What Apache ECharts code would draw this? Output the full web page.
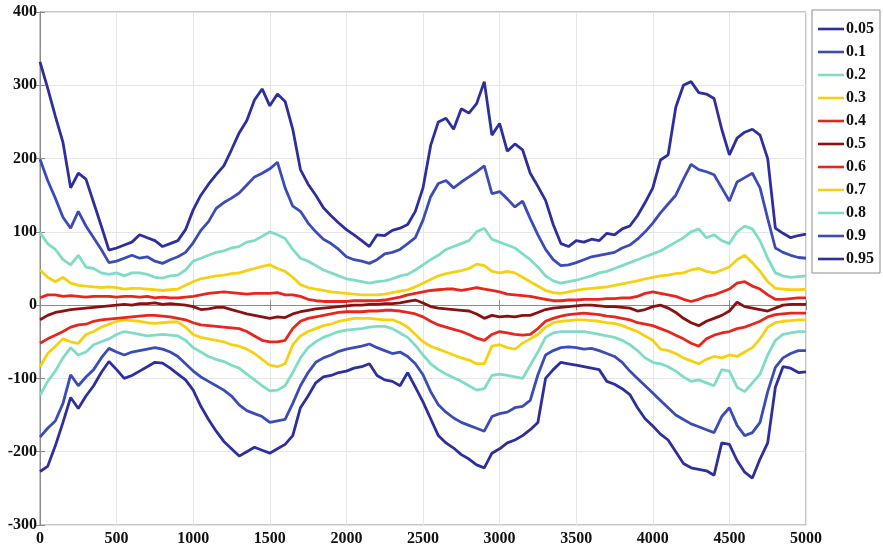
<!DOCTYPE html>
<html>
<head>
<meta charset="utf-8">
<script src="https://cdn.jsdelivr.net/npm/echarts@6/dist/echarts.min.js"></script>
<style>
  html, body { margin: 0; padding: 0; background: #fff; }
  #chart { width: 883px; height: 553px; }
</style>
</head>
<body>
<div id="chart"></div>
<script>
// Sample positions: 0, 50, 100, ... 5000
const xStep = 50;

const quantileNames = ['0.05', '0.1', '0.2', '0.3', '0.4', '0.5', '0.6', '0.7', '0.8', '0.9', '0.95'];

const q05 = [-227,-220,-192,-160,-126,-141,-124,-110,-92,-77,-88,-100,-96,-90,-84,-78,-79,-86,-94,-102,
  -116,-138,-156,-172,-186,-196,-206,-200,-194,-198,-202,-196,-190,-178,-140,-124,-106,-98,-96,-92,
  -90,-86,-84,-80,-96,-102,-104,-110,-92,-112,-132,-155,-178,-188,-195,-204,-210,-218,-222,-202,
  -196,-188,-184,-178,-170,-160,-100,-88,-78,-80,-82,-84,-86,-88,-104,-108,-114,-122,-140,-155,
  -165,-176,-184,-200,-216,-222,-224,-226,-232,-188,-190,-212,-228,-236,-210,-188,-112,-84,-86,-92,-91];

const q10 = [-180,-168,-158,-134,-95,-110,-98,-88,-72,-59,-64,-68,-64,-62,-60,-58,-60,-64,-70,-80,
  -90,-98,-104,-110,-116,-124,-136,-144,-148,-152,-160,-158,-156,-134,-110,-92,-78,-72,-68,-63,
  -60,-58,-56,-53,-58,-62,-66,-64,-70,-80,-95,-118,-136,-146,-154,-160,-164,-168,-172,-152,
  -148,-146,-140,-138,-130,-95,-68,-62,-58,-57,-58,-60,-59,-62,-66,-70,-78,-90,-100,-110,
  -120,-130,-140,-150,-156,-162,-166,-170,-174,-152,-140,-164,-178,-174,-160,-118,-85,-72,-66,-62,-62];

const q20 = [-123,-104,-90,-72,-58,-68,-64,-54,-50,-46,-40,-36,-38,-40,-42,-41,-40,-41,-42,-48,
  -58,-64,-70,-74,-77,-82,-86,-94,-102,-110,-117,-116,-110,-92,-72,-58,-50,-44,-40,-36,
  -34,-33,-32,-30,-29,-29,-32,-38,-44,-55,-68,-80,-88,-94,-99,-104,-110,-116,-114,-96,
  -94,-96,-98,-100,-82,-64,-44,-38,-36,-36,-36,-36,-38,-40,-42,-44,-48,-54,-62,-72,
  -78,-80,-84,-90,-98,-104,-102,-106,-110,-88,-90,-112,-118,-106,-94,-68,-48,-40,-38,-36,-36];

const q30 = [-84,-66,-56,-46,-50,-52,-40,-36,-30,-26,-22,-20,-21,-22,-24,-25,-24,-23,-23,-30,
  -40,-44,-46,-48,-50,-54,-56,-60,-66,-74,-82,-84,-80,-54,-42,-36,-32,-28,-26,-22,
  -20,-18,-18,-18,-19,-20,-20,-24,-30,-40,-50,-56,-60,-64,-68,-72,-75,-80,-80,-56,
  -54,-58,-60,-52,-46,-40,-30,-24,-22,-21,-20,-20,-21,-22,-24,-25,-28,-32,-36,-42,
  -48,-60,-62,-66,-72,-76,-80,-74,-70,-72,-68,-70,-64,-58,-46,-30,-24,-22,-21,-20,-20];

const q40 = [-52,-46,-41,-36,-30,-27,-26,-22,-20,-19,-18,-17,-16,-15,-14,-14,-15,-16,-18,-20,
  -24,-27,-28,-29,-30,-31,-32,-36,-42,-48,-50,-50,-48,-32,-22,-18,-16,-14,-12,-10,
  -9,-9,-9,-8,-8,-7,-7,-8,-10,-12,-16,-22,-27,-30,-33,-36,-40,-45,-48,-40,
  -36,-38,-40,-41,-40,-32,-22,-18,-15,-13,-12,-11,-12,-13,-15,-16,-18,-20,-24,-26,
  -28,-32,-36,-41,-46,-52,-56,-46,-41,-38,-36,-32,-30,-26,-22,-16,-13,-12,-11,-11,-11];

const q50 = [-20,-14,-10,-8,-6,-5,-4,-3,-2,-1,0,1,0,2,2,3,1,2,1,0,
  -2,-6,-5,-3,-3,-6,-9,-12,-14,-16,-18,-16,-17,-12,-9,-7,-5,-4,-3,-2,
  -1,0,0,1,1,2,2,3,5,7,3,-2,-4,-5,-6,-7,-8,-12,-18,-14,
  -16,-15,-16,-14,-14,-10,-6,-4,-3,-2,-1,0,0,-1,-2,-2,-3,-4,-8,-6,
  -2,0,-4,-10,-18,-24,-28,-22,-18,-14,-8,4,-2,-4,-6,-8,-4,0,1,1,1];

const q60 = [10,14,14,12,13,12,11,12,12,12,11,12,12,11,12,10,11,10,10,11,
  12,14,16,17,18,17,16,15,16,16,16,17,14,14,12,8,6,5,5,5,
  5,6,6,6,6,7,9,11,14,16,18,20,21,22,22,20,22,24,22,20,
  18,15,14,13,12,10,8,6,6,7,7,8,8,8,9,9,10,10,12,16,
  18,16,14,12,8,5,8,12,14,18,22,30,32,26,22,14,8,8,9,10,10];

const q70 = [48,38,32,38,30,27,26,25,24,25,24,22,23,23,22,21,20,21,22,27,
  32,36,38,40,41,43,44,47,50,53,55,50,46,38,28,24,22,20,18,17,
  16,15,14,14,14,15,17,19,21,25,30,35,40,43,45,47,50,56,54,46,
  44,46,44,38,32,26,20,17,16,18,20,22,23,24,25,27,29,31,33,36,
  38,40,41,43,44,48,50,46,44,48,52,62,68,58,46,32,23,22,21,21,22];

const q80 = [99,84,76,62,55,68,52,50,44,42,44,40,44,44,42,38,37,40,41,48,
  60,64,68,72,74,78,80,86,88,94,100,96,91,76,64,60,54,48,44,40,
  36,34,32,30,32,33,36,40,42,48,55,62,68,76,80,84,88,100,105,90,
  86,82,78,70,62,52,40,33,30,32,34,37,40,44,46,50,54,58,62,66,
  70,74,80,86,92,100,104,92,96,88,84,100,108,104,88,64,44,40,38,39,40];

const q90 = [199,170,146,120,105,128,108,92,76,58,60,64,68,64,66,60,57,62,66,72,
  85,102,114,132,140,146,153,164,175,180,186,195,160,135,128,112,100,90,84,76,
  66,62,60,57,62,70,72,76,84,92,116,148,166,170,160,168,175,182,190,152,
  155,145,134,142,118,96,76,62,54,55,58,62,66,68,70,72,78,82,90,100,
  112,126,138,150,172,192,185,182,178,160,142,168,174,180,160,118,78,72,68,65,64];

const q95 = [332,296,258,222,160,180,172,140,108,75,78,82,86,96,92,88,80,84,88,103,
  130,150,165,178,190,212,235,252,280,295,272,288,278,240,185,165,150,133,122,112,
  103,96,88,80,96,95,102,105,110,128,160,218,250,255,240,268,262,275,305,232,
  248,210,220,212,180,162,143,110,84,80,88,86,90,88,98,96,104,108,122,140,
  160,198,205,270,300,305,290,288,282,240,205,228,236,240,232,200,105,98,92,95,97];

const xTicks = [0, 500, 1000, 1500, 2000, 2500, 3000, 3500, 4000, 4500, 5000];
const yTicks = [-300, -200, -100, 0, 100, 200, 300, 400];

const seriesValues = [q05, q10, q20, q30, q40, q50, q60, q70, q80, q90, q95];
const seriesColors = ['#2c2f9c', '#3b4cb6', '#7fdcc6', '#f5d112', '#e8261d', '#8a1111',
                      '#e8261d', '#f5d112', '#7fdcc6', '#3b4cb6', '#2c2f9c'];

const labelFont = {
  fontFamily: '"Liberation Serif", "Times New Roman", serif',
  fontWeight: 'bold',
  fontSize: 16,
  color: '#111'
};

const series = seriesValues.map((vals, i) => ({
  name: quantileNames[i],
  type: 'line',
  xAxisIndex: 0,
  yAxisIndex: 0,
  showSymbol: false,
  symbol: 'none',
  animation: false,
  color: seriesColors[i],
  lineStyle: { width: 2.8, color: seriesColors[i] },
  data: vals.map((v, k) => [k * xStep, v]),
  z: 10 + (i === 5 ? 2 : 0)
}));

const xMin = xTicks[0], xMax = xTicks[xTicks.length - 1];
const yMin = yTicks[0], yMax = yTicks[yTicks.length - 1];

const chart = echarts.init(document.getElementById('chart'), null, { renderer: 'canvas' });
chart.setOption({
  animation: false,
  backgroundColor: '#fff',
  grid: {
    left: 40, right: 77, top: 12, bottom: 28,
    show: true, borderColor: '#8c8c8c', borderWidth: 1, backgroundColor: '#fff'
  },
  legend: {
    orient: 'vertical',
    right: 3,
    top: 10,
    width: 68,
    padding: [11, 6, 6, 6],
    backgroundColor: '#fff',
    borderColor: '#8c8c8c',
    borderWidth: 1,
    borderRadius: 0,
    itemWidth: 26,
    itemHeight: 12,
    itemGap: 7,
    icon: 'path://M0,5 L26,5 L26,7.6 L0,7.6 Z',
    textStyle: Object.assign({}, labelFont, { fontSize: 16, padding: [0, 0, 0, -3] }),
    data: quantileNames
  },
  xAxis: [{
    type: 'value',
    min: xMin, max: xMax, interval: 500,
    axisLine: { show: true, lineStyle: { color: '#8c8c8c' } },
    axisTick: { show: true, inside: true, length: 5, lineStyle: { color: '#8c8c8c' } },
    axisLabel: Object.assign({}, labelFont, { margin: 6, formatter: v => String(v) }),
    splitLine: { show: true, lineStyle: { color: '#e6e6e6', width: 1 } }
  }, {
    type: 'value',
    position: 'top',
    min: xMin, max: xMax, interval: 500,
    axisLine: { show: true, lineStyle: { color: '#8c8c8c' } },
    axisTick: { show: true, inside: true, length: 5, lineStyle: { color: '#8c8c8c' } },
    axisLabel: { show: false },
    splitLine: { show: false }
  }],
  yAxis: [{
    type: 'value',
    min: yMin, max: yMax, interval: 100,
    axisLine: { show: true, lineStyle: { color: '#8c8c8c' } },
    axisTick: { show: true, inside: true, length: 5, lineStyle: { color: '#8c8c8c' } },
    axisLabel: Object.assign({}, labelFont, { margin: 3, formatter: v => String(v) }),
    splitLine: { show: true, lineStyle: { color: '#e6e6e6', width: 1 } }
  }, {
    type: 'value',
    position: 'right',
    min: yMin, max: yMax, interval: 100,
    axisLine: { show: true, lineStyle: { color: '#8c8c8c' } },
    axisTick: { show: true, inside: true, length: 5, lineStyle: { color: '#8c8c8c' } },
    axisLabel: { show: false },
    splitLine: { show: false }
  }],
  series: series
});
</script>
</body>
</html>
